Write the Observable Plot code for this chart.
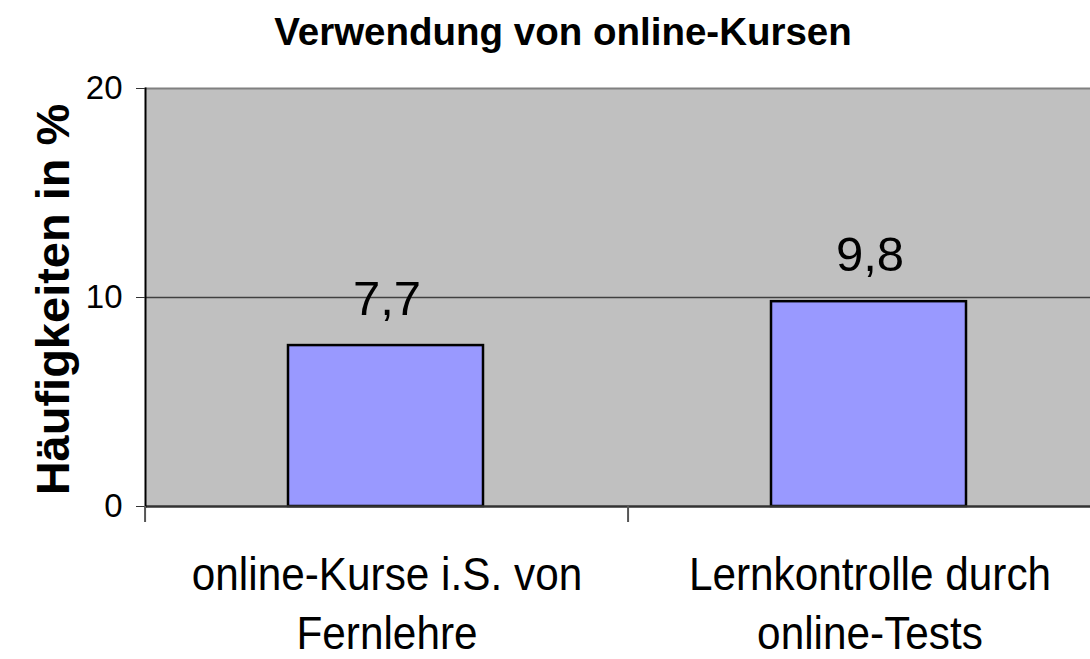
<!DOCTYPE html>
<html>
<head>
<meta charset="utf-8">
<script src="https://cdn.jsdelivr.net/npm/d3@7"></script>
<script src="https://cdn.jsdelivr.net/npm/@observablehq/plot@0.6"></script>
<style>
  html, body { margin: 0; padding: 0; background: #fff; overflow: hidden; }
  body { width: 1090px; height: 659px; font-family: "Liberation Sans", Arial, sans-serif; }
  #title { height: 70px; width: 1090px; box-sizing: border-box; padding-left: 36px; text-align: center;
           font-size: 38.5px; font-weight: bold; line-height: 64px; color: #000; }
  #chart svg { display: block; overflow: hidden; }
</style>
</head>
<body>
<div id="title"></div>
<div id="chart"></div>
<script>
const titleText = "Verwendung von online-Kursen";
const yLabel = "Häufigkeiten in %";
const categories = ["online-Kurse i.S. von\nFernlehre", "Lernkontrolle durch\nonline-Tests"];
const values = [7.7, 9.8];
const valueLabels = ["7,7", "9,8"];
const yTicks = [0, 10, 20];
const yMax = 20;

const data = categories.map((c, i) => ({cat: c, value: values[i], label: valueLabels[i]}));

document.getElementById("title").textContent = titleText;

const chart = Plot.plot({
  width: 1090,
  height: 589,
  marginTop: 18,
  marginBottom: 153,
  marginLeft: 145,
  marginRight: 0,
  style: {fontFamily: '"Liberation Sans", Arial, sans-serif', color: "#000", background: "#fff"},
  x: {type: "band", domain: categories, range: [145, 1111], paddingInner: 0.596, paddingOuter: 0.298, align: 0.5},
  y: {domain: [0, yMax], range: [436, 18]},
  marks: [
    Plot.frame({fill: "#c0c0c0", stroke: null}),
    Plot.ruleY([yMax], {stroke: "#808080", strokeWidth: 2}),
    Plot.ruleY([10], {stroke: "#404040", strokeWidth: 1.5}),
    Plot.barY(data, {x: "cat", y: "value", fill: "#9999ff", stroke: "#000", strokeWidth: 2.5, insetLeft: -1, insetRight: 1}),
    Plot.ruleY([0], {stroke: "#333", strokeWidth: 2.5}),
    Plot.frame({anchor: "left", stroke: "#000", strokeWidth: 2}),
    Plot.text(data, {x: "cat", y: "value", text: "label", dy: -31, lineAnchor: "bottom", fontSize: 49, ariaLabel: "value-labels"}),
    Plot.axisY({ticks: yTicks, tickSize: 9, tickPadding: 14, fontSize: 33, label: null, stroke: "#333"}),
    Plot.axisX({tickSize: 0, tickPadding: 42, fontSize: 46, lineHeight: 1.28, label: null}),
    Plot.text([yLabel], {frameAnchor: "left", textAnchor: "middle", rotate: -90, dx: -92, dy: 2, fontSize: 47, fontWeight: "bold"})
  ]
});
document.getElementById("chart").appendChild(chart);

// narrow the category and value labels like the original's condensed type
d3.select(chart).selectAll('g[aria-label="value-labels"] text, g[aria-label="x-axis tick label"] text')
  .attr("transform", function() { return (this.getAttribute("transform") || "") + " scale(0.92,1)"; });

// category boundary ticks below the axis, positioned from Plot's x scale
const xs = chart.scale("x");
const half = xs.step * xs.paddingInner / 2;
const bounds = categories.map(c => xs.apply(c) - half).concat([xs.apply(categories[categories.length - 1]) + xs.bandwidth + half]);
const y0 = chart.scale("y").apply(0);
d3.select(chart).append("g")
  .selectAll("line").data(bounds).join("line")
  .attr("x1", d => d).attr("x2", d => d)
  .attr("y1", y0).attr("y2", y0 + 16)
  .attr("stroke", "#555").attr("stroke-width", 2);
</script>
</body>
</html>
